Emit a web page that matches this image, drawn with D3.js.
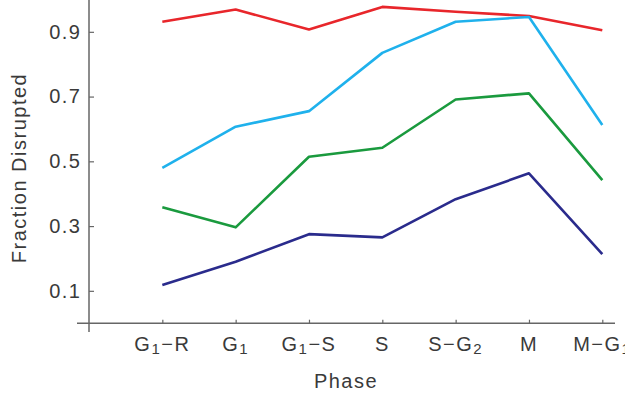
<!DOCTYPE html>
<html>
<head>
<meta charset="utf-8">
<script src="https://cdn.jsdelivr.net/npm/d3@7"></script>
<style>
  html, body { margin: 0; padding: 0; background: #fff; }
  svg { display: block; font-family: "Liberation Sans", Arial, sans-serif; }
  svg text { letter-spacing: 1.5px; }
</style>
</head>
<body>
<svg id="chart"></svg>
<script>
// phases along the cell cycle ("_" marks a subscript)
const phases = ['G_1−R', 'G_1', 'G_1−S', 'S', 'S−G_2', 'M', 'M−G_1'];

// fraction disrupted per phase, one array per line
const redSeries = [0.931, 0.969, 0.907, 0.977, 0.962, 0.949, 0.905];
const cyanSeries = [0.480, 0.607, 0.655, 0.835, 0.931, 0.946, 0.612];
const greenSeries = [0.358, 0.296, 0.514, 0.542, 0.691, 0.710, 0.442];
const navySeries = [0.118, 0.190, 0.275, 0.265, 0.383, 0.463, 0.213];

const yTicks = [0.1, 0.3, 0.5, 0.7, 0.9];

const series = [
  { values: redSeries, color: '#e8262b' },
  { values: cyanSeries, color: '#1fb1ec' },
  { values: greenSeries, color: '#1a9a3e' },
  { values: navySeries, color: '#2a2b8c' }
];

const svgWidth = 625;
const svgHeight = 394;
const textColor = '#3a3a3a';
const axisColor = '#666';

const svg = d3.select('#chart')
  .attr('width', svgWidth)
  .attr('height', svgHeight);

// index 0 sits on the y axis, phases start at 1
const xScale = d3.scaleLinear()
  .domain([0, phases.length])
  .range([89, 602.3]);

const yScale = d3.scaleLinear()
  .domain([0, 1])
  .range([323.2, -0.55]);

// axis lines (they cross and overhang a little)
svg.append('line')
  .attr('x1', 77).attr('x2', 615)
  .attr('y1', yScale(0)).attr('y2', yScale(0))
  .attr('stroke', axisColor).attr('stroke-width', 1.5);

svg.append('line')
  .attr('x1', xScale(0)).attr('x2', xScale(0))
  .attr('y1', 0).attr('y2', 332)
  .attr('stroke', axisColor).attr('stroke-width', 1.5);

// y axis ticks (pointing inward)
const yAxis = svg.append('g')
  .attr('transform', `translate(${xScale(0)},0)`)
  .call(d3.axisLeft(yScale)
    .tickValues(yTicks)
    .tickFormat(d3.format('.1f'))
    .tickSizeInner(-5)
    .tickSizeOuter(0)
    .tickPadding(7.5));

yAxis.select('.domain').remove();
yAxis.selectAll('line').attr('stroke', axisColor).attr('stroke-width', 1.2);
yAxis.selectAll('text')
  .attr('fill', textColor)
  .style('font-size', '20px')
  .style('font-family', '"Liberation Sans", Arial, sans-serif');

// x axis ticks (pointing inward), labels drawn with subscripts
const xAxis = svg.append('g')
  .attr('transform', `translate(0,${yScale(0)})`)
  .call(d3.axisBottom(xScale)
    .tickValues(d3.range(1, phases.length + 1))
    .tickFormat('')
    .tickSizeInner(-3.5)
    .tickSizeOuter(0));

xAxis.select('.domain').remove();
xAxis.selectAll('line').attr('stroke', axisColor).attr('stroke-width', 1.2);

const phaseLabels = svg.append('g');
phases.forEach((name, i) => {
  const label = phaseLabels.append('text')
    .attr('x', xScale(i + 1))
    .attr('y', 350.5)
    .attr('text-anchor', 'middle')
    .attr('fill', textColor)
    .style('font-size', '20px');

  // split "G_1−R" into normal and subscript parts
  const parts = name.split(/_(\d)/);
  parts.forEach((part, k) => {
    if (!part) return;
    const sub = k % 2 === 1;
    label.append('tspan')
      .attr('dy', sub ? 3.5 : (k > 0 ? -3.5 : 0))
      .style('font-size', sub ? '15px' : '20px')
      .text(part);
  });
});

// axis titles
svg.append('text')
  .attr('x', 346)
  .attr('y', 388)
  .attr('text-anchor', 'middle')
  .attr('fill', textColor)
  .style('font-size', '20px')
  .text('Phase');

svg.append('text')
  .attr('transform', 'translate(25.5,168) rotate(-90)')
  .attr('text-anchor', 'middle')
  .attr('fill', textColor)
  .style('font-size', '20px')
  .text('Fraction Disrupted');

// lines
const line = d3.line()
  .x((d, i) => xScale(i + 1))
  .y((d) => yScale(d));

svg.selectAll('.series')
  .data(series)
  .enter()
  .append('path')
  .attr('class', 'series')
  .attr('d', (d) => line(d.values))
  .attr('fill', 'none')
  .attr('stroke', (d) => d.color)
  .attr('stroke-width', 2.6)
  .attr('stroke-linejoin', 'round');
</script>
</body>
</html>
